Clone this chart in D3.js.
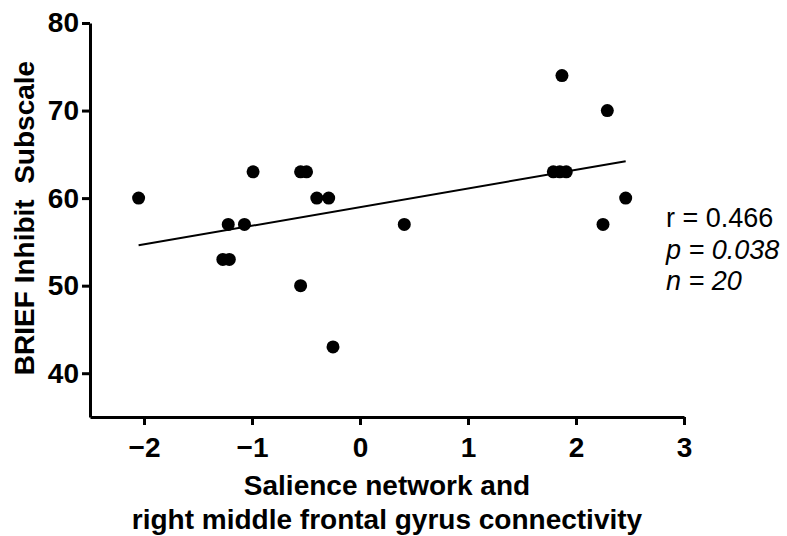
<!DOCTYPE html>
<html lang="en">
<head>
  <meta charset="UTF-8">
  <title>BRIEF Inhibit vs connectivity</title>
  <script src="https://d3js.org/d3.v7.min.js"></script>
  <style>
    body { margin: 0; background: #fff; }
    text { font-family: "Liberation Sans", Arial, Helvetica, sans-serif; fill: #000; }
  </style>
</head>
<body>
  <div id="chart"></div>
  <script>
    // connectivity values (x) and BRIEF Inhibit scores (y)
    const connectivity = [-2.05, -1.27, -1.21, -1.22, -1.07, -0.99, -0.55, -0.495, -0.55,
      -0.40, -0.29, -0.25, 0.41, 1.79, 1.85, 1.91, 1.87, 2.25, 2.29, 2.46];
    const inhibit = [60, 53, 53, 57, 57, 63, 63, 63, 50,
      60, 60, 43, 57, 63, 63, 63, 74, 57, 70, 60];
    const xTicks = [-2, -1, 0, 1, 2, 3];
    const yTicks = [40, 50, 60, 70, 80];
    const stats = [
      { label: "r", value: "0.466", italic: false },
      { label: "p", value: "0.038", italic: true },
      { label: "n", value: "20", italic: true }
    ];

    const width = 787, height = 536;
    const svg = d3.select("#chart").append("svg")
      .attr("width", width)
      .attr("height", height);

    const x = d3.scaleLinear().domain([-2.5, 3]).range([90, 684]);
    const y = d3.scaleLinear().domain([35, 80]).range([417, 23]);

    const points = connectivity.map((v, i) => ({ x: v, y: inhibit[i] }));

    // least squares fit
    const mx = d3.mean(connectivity), my = d3.mean(inhibit);
    const slope = d3.sum(points, d => (d.x - mx) * (d.y - my)) /
      d3.sum(points, d => (d.x - mx) ** 2);
    const icpt = my - slope * mx;
    const [x0, x1] = d3.extent(connectivity);

    svg.append("line")
      .attr("x1", x(x0)).attr("y1", y(icpt + slope * x0))
      .attr("x2", x(x1)).attr("y2", y(icpt + slope * x1))
      .attr("stroke", "#000")
      .attr("stroke-width", 2);

    svg.selectAll("circle.pt")
      .data(points)
      .enter().append("circle")
      .attr("class", "pt")
      .attr("cx", d => x(d.x))
      .attr("cy", d => y(d.y))
      .attr("r", 6.5)
      .attr("fill", "#000");

    // axes
    const yAxis = svg.append("g")
      .attr("transform", `translate(${x.range()[0]},0)`)
      .call(d3.axisLeft(y).tickValues(yTicks).tickFormat(d3.format("d"))
        .tickSize(8).tickSizeOuter(0).tickPadding(3));
    const xAxis = svg.append("g")
      .attr("transform", `translate(0,${y.range()[0]})`)
      .call(d3.axisBottom(x).tickValues(xTicks).tickFormat(d3.format("d"))
        .tickSize(8).tickSizeOuter(0).tickPadding(12));

    [xAxis, yAxis].forEach(g => {
      g.select(".domain").attr("stroke", "#000").attr("stroke-width", 3);
      g.selectAll(".tick line").attr("stroke", "#000").attr("stroke-width", 3);
      g.selectAll(".tick text")
        .attr("fill", "#000")
        .style("font-family", '"Liberation Sans", Arial, sans-serif')
        .style("font-size", "28px")
        .style("font-weight", "bold");
    });

    // axis titles
    svg.append("text")
      .attr("transform", `translate(34,${(y.range()[0] + y.range()[1]) / 2 - 2}) rotate(-90)`)
      .attr("text-anchor", "middle")
      .style("font-size", "28px")
      .style("font-weight", "bold")
      .style("white-space", "pre")
      .text("BRIEF Inhibit  Subscale");

    const xMid = (x.range()[0] + x.range()[1]) / 2;
    const xTitle = svg.append("text")
      .attr("text-anchor", "middle")
      .style("font-size", "28px")
      .style("font-weight", "bold");
    xTitle.append("tspan").attr("x", xMid).attr("y", 495).text("Salience network and");
    xTitle.append("tspan").attr("x", xMid).attr("y", 529).text("right middle frontal gyrus connectivity");

    // statistics
    svg.selectAll("text.stat")
      .data(stats)
      .enter().append("text")
      .attr("class", "stat")
      .attr("x", 666)
      .attr("y", (d, i) => 227 + i * 31.5)
      .style("font-size", "27px")
      .style("font-style", d => d.italic ? "italic" : "normal")
      .text(d => `${d.label} = ${d.value}`);
  </script>
</body>
</html>
